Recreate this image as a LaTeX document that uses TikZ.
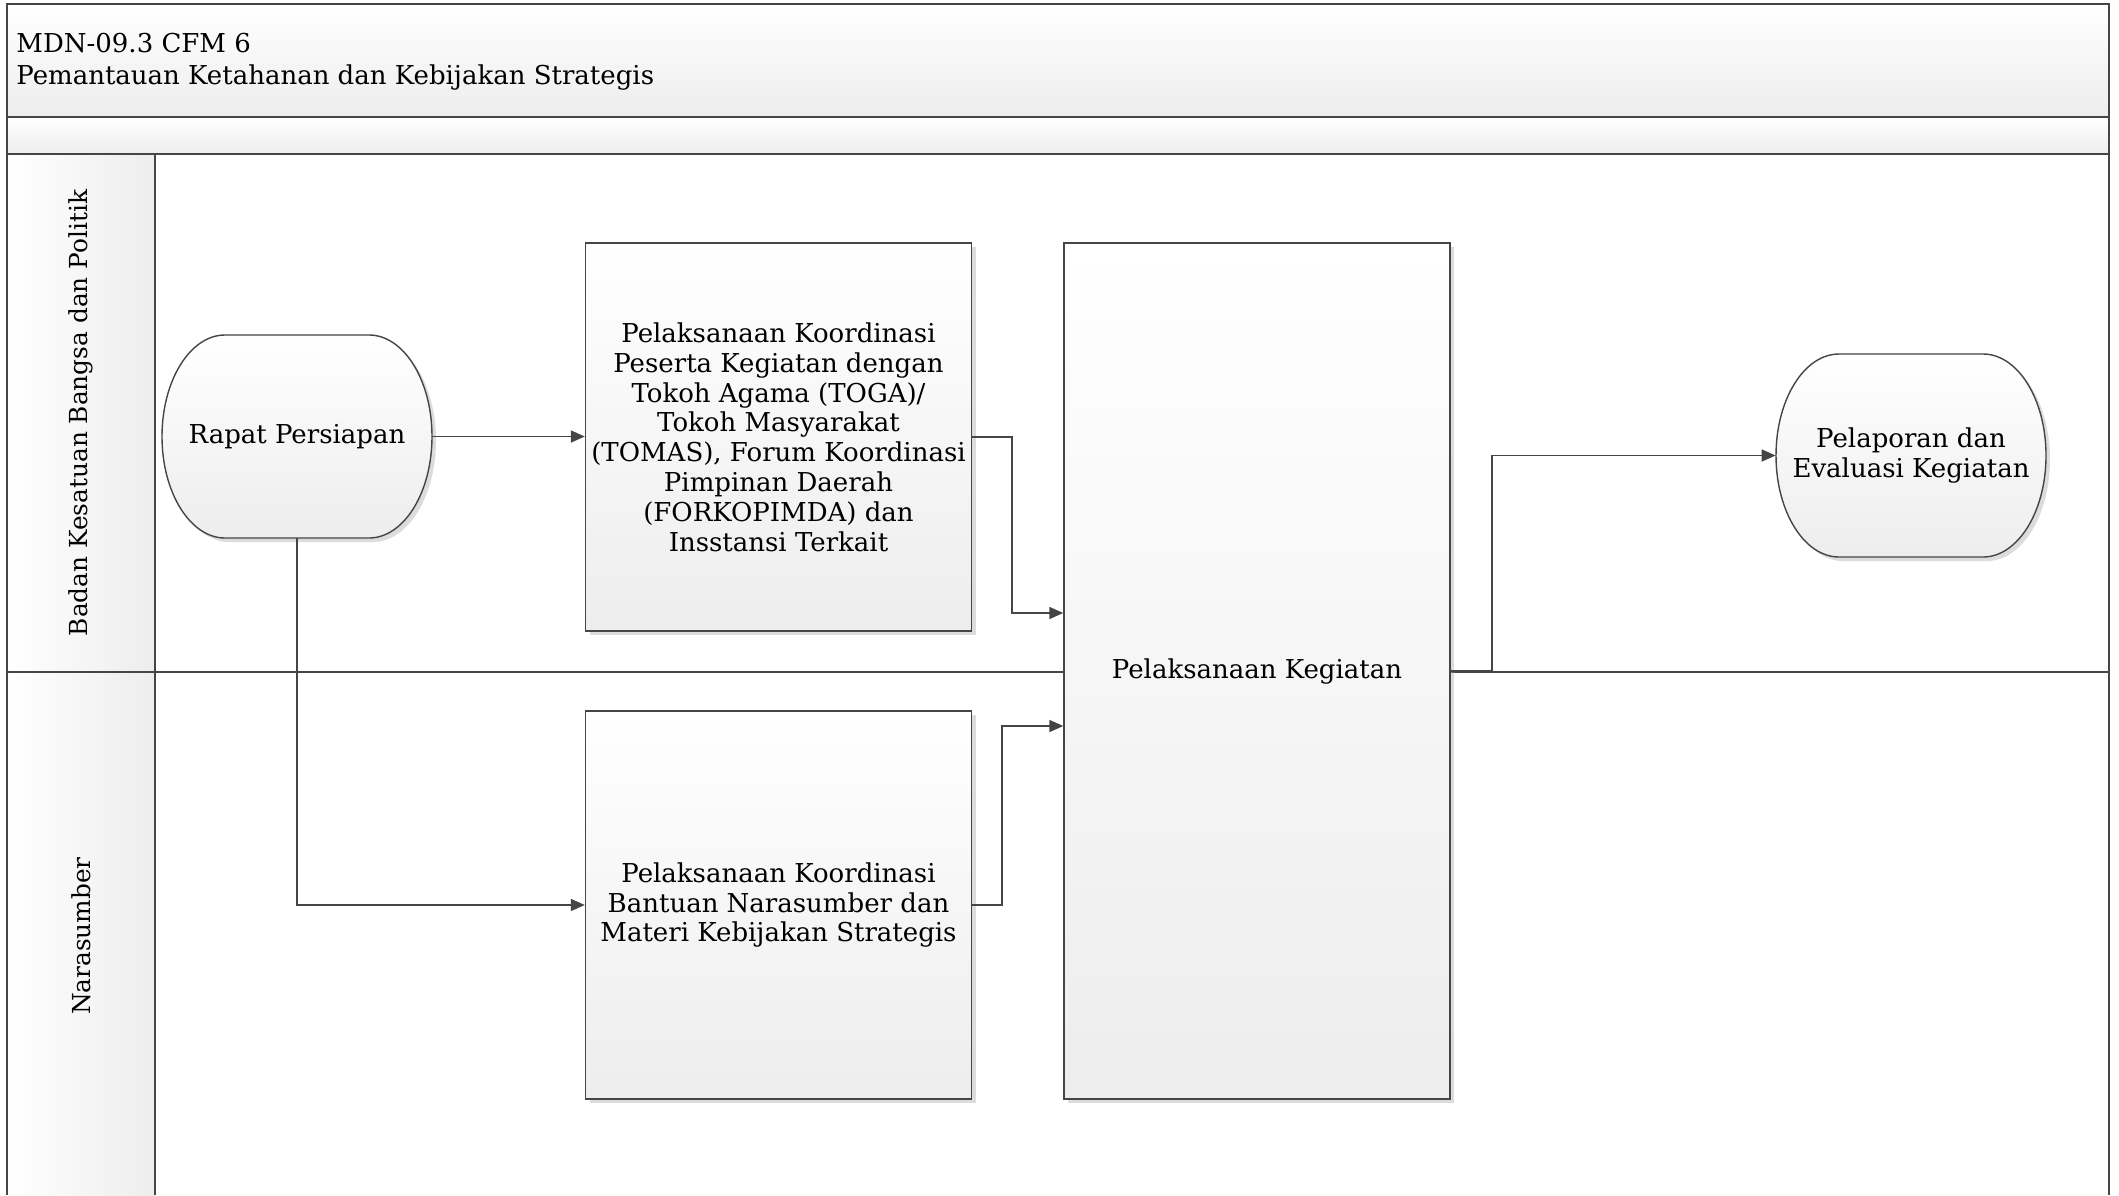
\documentclass[tikz,border=0pt]{standalone}
\usepackage{fontspec}
\setmainfont{DejaVu Serif}
\usetikzlibrary{arrows.meta,shadows,calc}
\definecolor{linec}{HTML}{454545}
\definecolor{shadeb}{HTML}{EDEDED}
\tikzset{
  frameline/.style={draw=linec, line width=0.8pt},
  shadowed/.style={drop shadow={shadow xshift=2pt, shadow yshift=-2pt, fill=black!30, opacity=0.45}},
  boxstyle/.style={draw=linec, line width=0.7pt, top color=white, bottom color=shadeb, shadowed,
    align=center, font=\fontsize{13}{14.9}\selectfont, inner sep=2pt},
  termtext/.style={align=center, font=\fontsize{13}{14.9}\selectfont, draw=none, inner sep=0pt},
  termline/.style={draw=linec, line width=0.7pt, top color=white, bottom color=shadeb, shadowed},
  arr/.style={draw=linec, line width=0.8pt, -{Triangle[length=7pt,width=6pt]}},
  lanetext/.style={rotate=90, font=\fontsize{12.4}{14.9}\selectfont},
  headtext/.style={align=left, font=\fontsize{13}{15.8}\selectfont, anchor=west, inner sep=0pt},
}
% terminator outline: x1, y1, x2, y2, horizontal radius
\newcommand\termoutline[5]{%
  \path[termline] ({#1+#5},#2) -- ({#3-#5},#2)
    .. controls ({#3-#5+0.5523*#5},#2) and (#3,{(#2+#4)/2-0.5523*(#4-#2)/2}) .. (#3,{(#2+#4)/2})
    .. controls (#3,{(#2+#4)/2+0.5523*(#4-#2)/2}) and ({#3-#5+0.5523*#5},#4) .. ({#3-#5},#4)
    -- ({#1+#5},#4)
    .. controls ({#1+#5-0.5523*#5},#4) and (#1,{(#2+#4)/2+0.5523*(#4-#2)/2}) .. (#1,{(#2+#4)/2})
    .. controls (#1,{(#2+#4)/2-0.5523*(#4-#2)/2}) and ({#1+#5-0.5523*#5},#2) .. ({#1+#5},#2)
    -- cycle;}
\begin{document}
\begin{tikzpicture}[x=0.5pt,y=-0.5pt]
\useasboundingbox (0,0) rectangle (2119,1195);
\fill[white] (0,0) rectangle (2119,1195);
% header bands
\path[top color=white, bottom color=shadeb] (7,4) rectangle (2109,117);
\path[top color=white, bottom color=shadeb] (7,117) rectangle (2109,154);
% lane label column
\path[left color=white, right color=shadeb] (7,154) rectangle (155,1195);
% frame lines
\draw[frameline] (7,1195) -- (7,4) -- (2109,4) -- (2109,1195);
\draw[frameline] (7,117) -- (2109,117);
\draw[frameline] (7,154) -- (2109,154);
\draw[frameline] (7,672) -- (2109,672);
\draw[frameline] (155,154) -- (155,1195);
% header text
\node[headtext] (title) at (16,62) {MDN-09.3 CFM 6\\Pemantauan Ketahanan dan Kebijakan Strategis};
% lane labels
\node[lanetext] (lane1) at (81,413) {Badan Kesatuan Bangsa dan Politik};
\node[lanetext] (lane2) at (81,936) {Narasumber};
% terminators
\termoutline{162}{335}{432}{538}{63}
\node[termtext, minimum width=135pt, minimum height=101.5pt] (rapat) at (297,436.5) {Rapat Persiapan};
\termoutline{1776}{354}{2046}{557}{63}
\node[termtext, minimum width=135pt, minimum height=101.5pt] (lapor) at (1911,455.5) {Pelaporan dan\\Evaluasi Kegiatan};
% process boxes
\node[boxstyle, minimum width=193pt, minimum height=194pt] (box1) at (778.5,437)
  {Pelaksanaan Koordinasi\\Peserta Kegiatan dengan\\Tokoh Agama (TOGA)/\\Tokoh Masyarakat\\(TOMAS), Forum Koordinasi\\Pimpinan Daerah\\(FORKOPIMDA) dan\\Insstansi Terkait};
\node[boxstyle, minimum width=193pt, minimum height=194pt] (box2) at (778.5,905)
  {Pelaksanaan Koordinasi\\Bantuan Narasumber dan\\Materi Kebijakan Strategis};
\node[boxstyle, minimum width=193pt, minimum height=428pt] (box3) at (1257,671)
  {Pelaksanaan Kegiatan};
% connectors
\coordinate (j1) at (1012,613);
\coordinate (j2) at (1002,726);
\coordinate (j3) at (1492,455.5);
\draw[arr] (rapat.east) -- (box1.west |- rapat.east);
\draw[arr] (rapat.south) |- (box2.west);
\draw[arr] (box1.east) -| (j1) -- (box3.west |- j1);
\draw[arr] (box2.east) -| (j2) -- (box3.west |- j2);
\draw[arr] (box3.east) -| (j3) -- (lapor.west);
\end{tikzpicture}
\end{document}
